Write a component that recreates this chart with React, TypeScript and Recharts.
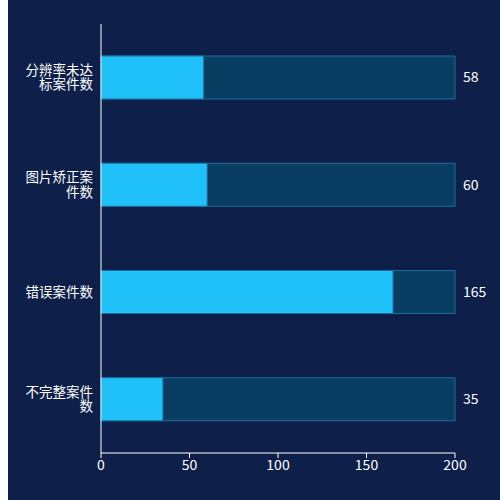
import { BarChart, Bar, XAxis, YAxis, LabelList } from "recharts";

const categories = ["分辨率未达标案件数", "图片矫正案件数", "错误案件数", "不完整案件数"];
const caseCounts = [58, 60, 165, 35];
const maxValue = 200;
const xTicks = [0, 50, 100, 150, 200];

const data = categories.map((name, i) => ({
  name,
  value: caseCounts[i],
  total: maxValue,
}));

const FONT = '"Noto Sans CJK SC", "Noto Sans", sans-serif';

// wraps the category name every 5 characters, right aligned
function CategoryTick({ x, y, payload }: any) {
  const text: string = payload.value;
  const lines: string[] = [];
  for (let i = 0; i < text.length; i += 5) lines.push(text.slice(i, i + 5));
  const lineHeight = 14.5;
  const startY = y - ((lines.length - 1) * lineHeight) / 2;
  return (
    <g>
      {lines.map((line, i) => (
        <text
          key={i}
          x={x}
          y={startY + i * lineHeight + 4.5}
          textAnchor="end"
          fill="#ffffff"
          fontSize={13.5}
          fontFamily={FONT}
        >
          {line}
        </text>
      ))}
    </g>
  );
}

export default function App() {
  return (
    <div
      style={{
        position: "absolute",
        top: 0,
        left: 8,
        width: 492,
        height: 500,
        background: "#0e2049",
      }}
    >
      <BarChart
        width={492}
        height={500}
        data={data}
        layout="vertical"
        barSize={43}
        barGap={-43}
        margin={{ top: 24, right: 45, bottom: 17, left: 0 }}
      >
        <XAxis
          type="number"
          domain={[0, maxValue]}
          ticks={xTicks}
          stroke="#ffffff"
          tick={{ fill: "#ffffff", fontSize: 14, fontFamily: FONT }}
          tickSize={5}
          height={30}
        />
        <YAxis
          type="category"
          dataKey="name"
          width={93}
          stroke="#ffffff"
          tickLine={false}
          tick={<CategoryTick />}
        />
        <Bar
          dataKey="total"
          fill="#0a3d62"
          stroke="#1b6e9e"
          strokeWidth={1}
          isAnimationActive={false}
        >
          <LabelList
            dataKey="value"
            position="right"
            offset={8}
            fill="#ffffff"
            fontSize={14}
            fontFamily={FONT}
          />
        </Bar>
        <Bar
          dataKey="value"
          fill="#20c0f8"
          stroke="#1b6e9e"
          strokeWidth={1}
          isAnimationActive={false}
        />
      </BarChart>
    </div>
  );
}
